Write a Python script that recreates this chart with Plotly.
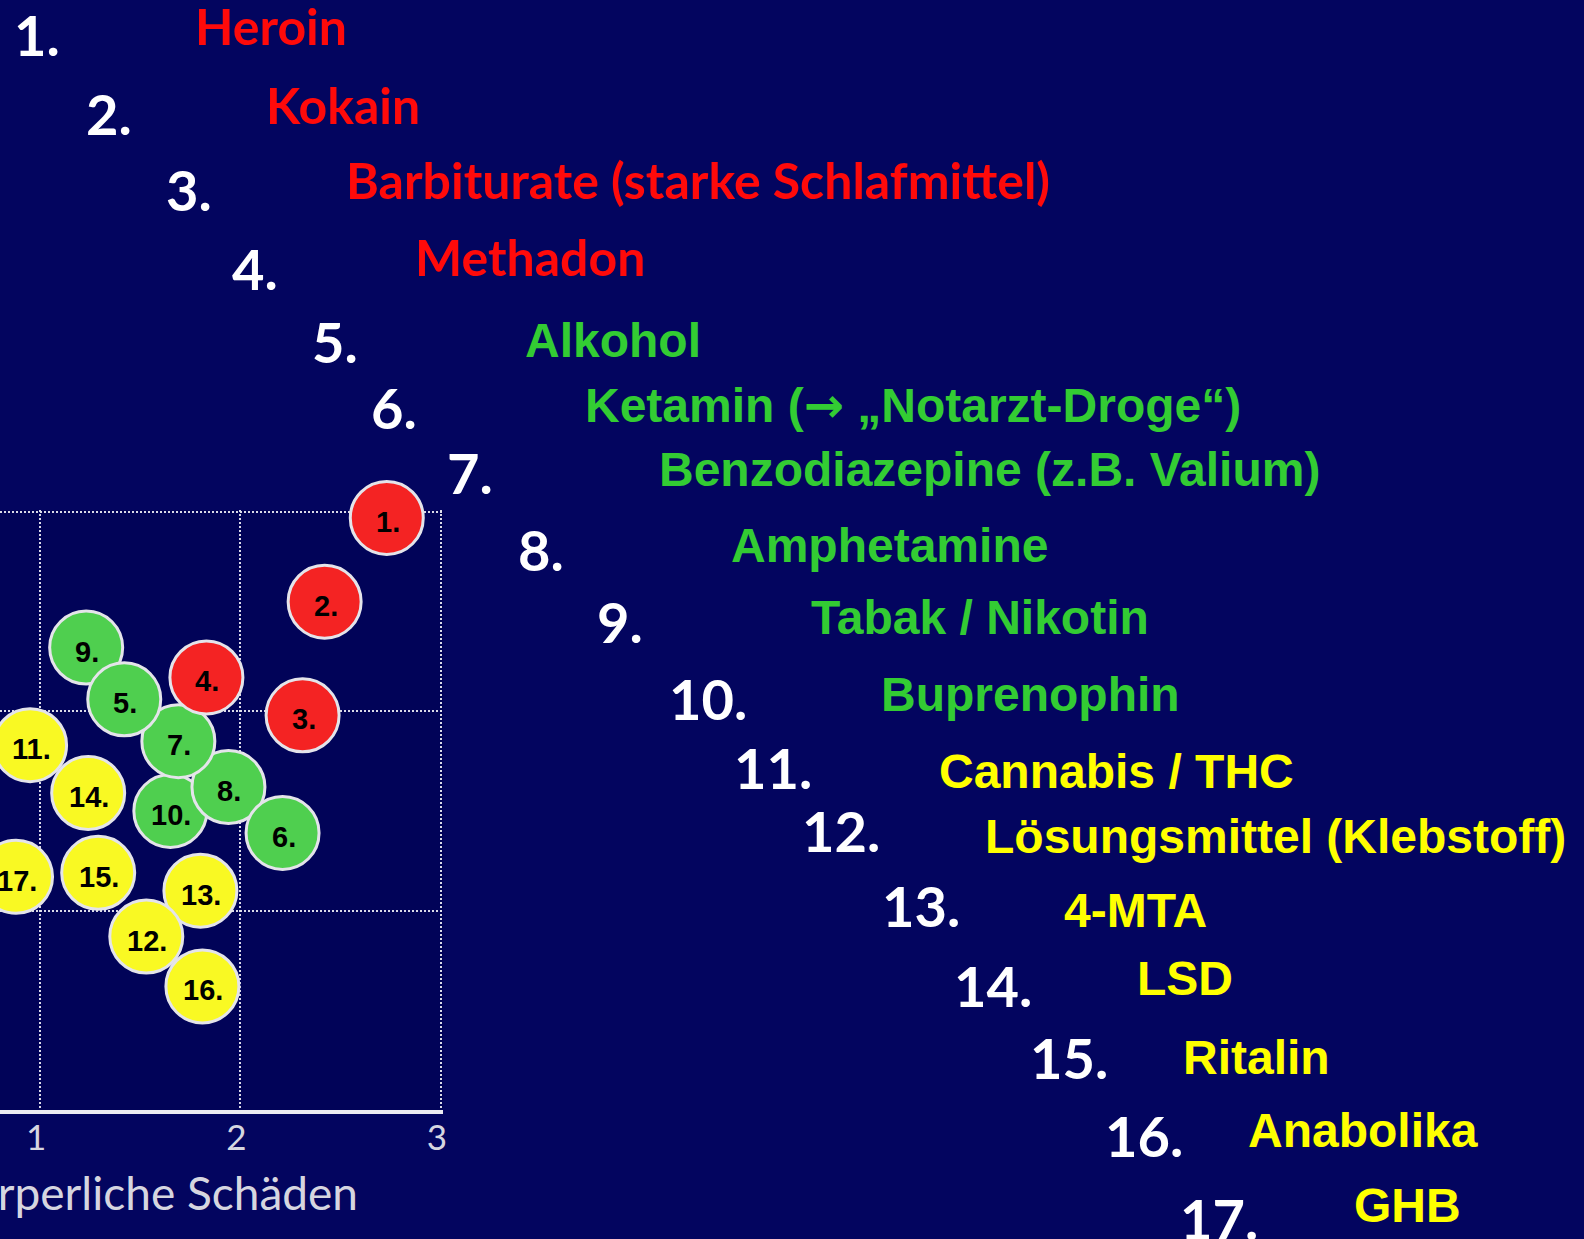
import plotly.graph_objects as go

# ---------------- data ----------------
ranks = list(range(1, 18))
names = [
    "Heroin", "Kokain", "Barbiturate (starke Schlafmittel)", "Methadon",
    "Alkohol", "Ketamin (\u2192 \u201eNotarzt-Droge\u201c)", "Benzodiazepine (z.B. Valium)",
    "Amphetamine", "Tabak / Nikotin", "Buprenophin", "Cannabis / THC",
    "Lösungsmittel (Klebstoff)", "4-MTA", "LSD", "Ritalin", "Anabolika", "GHB",
]
groups = ["illegal-hoch"] * 4 + ["mittel"] * 6 + ["niedrig"] * 7
physical_harm = [2.73, 2.42, 2.31, 1.83, 1.42, 2.21, 1.69, 1.94, 1.23, 1.65,
                 0.95, 1.53, 1.80, 1.24, 1.29, 1.81, 0.88]
dependence = [2.97, 2.55, 1.98, 2.17, 2.06, 1.39, 1.85, 1.62, 2.32, 1.50,
              1.83, 0.87, 1.10, 1.59, 1.19, 0.62, 1.17]
x_ticks = [1, 2, 3]
x_title = "Körperliche Schäden"

# ---------------- style ----------------
W, H = 1584, 1239
marker_colors = {"illegal-hoch": "#F42323", "mittel": "#4FCF4F", "niedrig": "#F9F923"}
text_colors = {"illegal-hoch": "#FF0A0A", "mittel": "#33CC33", "niedrig": "#FFFF00"}
BG = "#03055F"
GRID = "rgba(230,230,240,0.95)"
LABEL = "#D6D6E0"

# layout of the ranked list (pixel positions: left edge, vertical centre)
num_pos = [(12, 35), (84, 114), (164, 189), (231, 268), (311, 341), (370, 407),
           (446, 472), (517, 549), (597, 621), (669, 698), (734, 767), (802, 830),
           (882, 905), (954, 985), (1031, 1057), (1106, 1135), (1181, 1218)]
name_pos = [(193, 26), (265, 105), (345, 180), (414, 257), (524, 340), (584, 405),
            (659, 470), (731, 546), (811, 617), (881, 694), (939, 771), (985, 837),
            (1065, 910), (1138, 978), (1184, 1057), (1249, 1130), (1355, 1205)]

# plot area in pixels
PX_L, PX_R, PX_T, PX_B = 0, 444, 510, 1110


def px(x):
    return x / W


def py(y):
    return 1 - y / H


fig = go.Figure()

order = list(range(len(ranks)))[::-1]
fig.add_trace(go.Scatter(
    x=[physical_harm[i] for i in order],
    y=[dependence[i] for i in order],
    mode="markers",
    marker=dict(
        size=73,
        color=[marker_colors[groups[i]] for i in order],
        line=dict(color="#E4E4EA", width=3),
        opacity=1,
    ),
    cliponaxis=False,
    hoverinfo="skip",
    showlegend=False,
))

annotations = []
# bubble labels (placed at the data points, slightly below centre like the original)
for i in range(len(ranks)):
    annotations.append(dict(
        x=physical_harm[i], y=dependence[i], xref="x", yref="y",
        xanchor="center", yanchor="middle", showarrow=False,
        xshift=1, yshift=-4,
        text=f"{ranks[i]}.",
        font=dict(family="Liberation Sans, Arial, sans-serif", size=29, color="black", weight="bold"),
    ))

ARROW = '<span style="font-family:\'DejaVu Sans\'">\u2192</span>'

for i in range(len(ranks)):
    nx, ny = num_pos[i]
    annotations.append(dict(
        x=px(nx), y=py(ny), xref="paper", yref="paper",
        xanchor="left", yanchor="middle", showarrow=False,
        text=f"{ranks[i]}.",
        font=dict(family="Lato, sans-serif", size=56, color="white", weight="bold"),
    ))
    tx, ty = name_pos[i]
    if groups[i] == "illegal-hoch":
        fnt = dict(family="Lato, sans-serif", size=50, color=text_colors[groups[i]], weight="bold")
    else:
        fnt = dict(family="Liberation Sans, Arial, sans-serif", size=48,
                   color=text_colors[groups[i]], weight="bold")
    annotations.append(dict(
        x=px(tx), y=py(ty), xref="paper", yref="paper",
        xanchor="left", yanchor="middle", showarrow=False,
        text=names[i].replace("\u2192", ARROW), font=fnt,
    ))

# axis title (partly cut off at the left edge, as in the reference)
annotations.append(dict(
    x=px(361), y=py(1192), xref="paper", yref="paper",
    xanchor="right", yanchor="middle", showarrow=False,
    text=x_title,
    font=dict(family="Lato, sans-serif", size=46, color=LABEL),
))

fig.update_layout(
    width=W, height=H,
    margin=dict(l=0, r=0, t=0, b=0),
    paper_bgcolor=BG,
    plot_bgcolor="#010358",
    annotations=annotations,
    xaxis=dict(
        domain=[px(PX_L), px(PX_R)],
        range=[0.8, 3.01],
        tickvals=x_ticks,
        ticktext=[str(t) for t in x_ticks],
        showgrid=True, gridcolor=GRID, gridwidth=2, griddash="2px,2px",
        zeroline=False,
        showline=True, linecolor="#ECECF2", linewidth=4,
        ticks="",
        tickfont=dict(family="Lato, sans-serif", size=35, color=LABEL),
        ticklabelstandoff=-6,
        ticklabelshift=-4,
        fixedrange=True,
    ),
    yaxis=dict(
        domain=[1 - PX_B / H, 1 - PX_T / H],
        range=[0, 3.01],
        tickvals=[1, 2, 3],
        showticklabels=False,
        showgrid=True, gridcolor=GRID, gridwidth=2, griddash="2px,2px",
        zeroline=False, showline=False, ticks="",
        fixedrange=True,
    ),
)

fig.write_html(
    "out.html",
    config={"displayModeBar": False, "staticPlot": True},
    post_script="document.body.style.margin='0';document.body.style.background='" + BG + "';",
)
